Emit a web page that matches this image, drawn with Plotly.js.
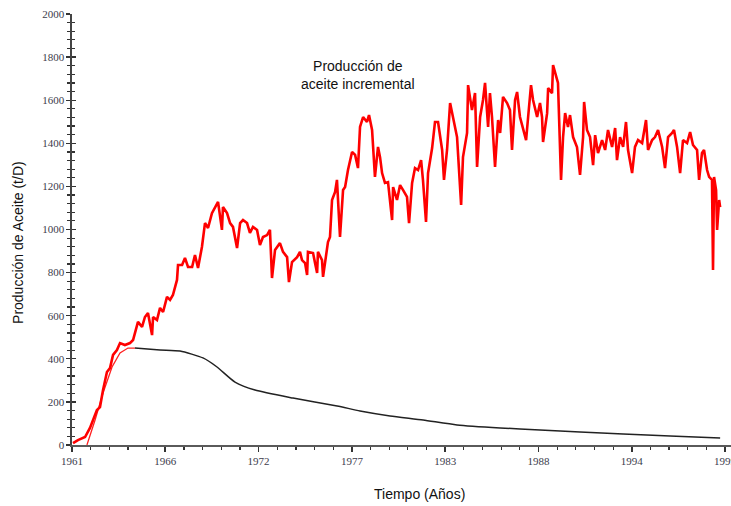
<!DOCTYPE html>
<html>
<head>
<meta charset="utf-8">
<script src="https://cdn.plot.ly/plotly-3.0.1.min.js"></script>
<style>html,body{margin:0;padding:0;background:#fff;}#chart{width:731px;height:506px;}</style>
</head>
<body>
<div id="chart"></div>
<script>
// Incremental oil production (red)
const incYears = [1961.06,1961.35,1961.77,1962.06,1962.47,1962.65,1962.83,1963.06,1963.24,1963.42,1963.65,1963.83,1964.12,1964.42,1964.60,1964.71,1964.89,1965.13,1965.30,1965.48,1965.72,1965.78,1966.01,1966.19,1966.37,1966.60,1966.78,1966.95,1967.19,1967.25,1967.49,1967.66,1967.84,1968.08,1968.25,1968.43,1968.66,1968.84,1969.02,1969.25,1969.43,1969.61,1969.84,1969.90,1970.14,1970.32,1970.49,1970.73,1970.91,1971.08,1971.32,1971.49,1971.67,1971.91,1972.08,1972.26,1972.50,1972.67,1972.79,1972.97,1973.26,1973.44,1973.68,1973.79,1973.97,1974.27,1974.44,1974.56,1974.74,1974.86,1974.91,1975.21,1975.33,1975.45,1975.50,1975.74,1975.80,1975.92,1976.09,1976.21,1976.33,1976.51,1976.62,1976.80,1976.98,1977.10,1977.27,1977.51,1977.69,1977.86,1977.98,1978.16,1978.39,1978.51,1978.69,1978.86,1979.04,1979.16,1979.28,1979.45,1979.63,1979.87,1979.93,1980.16,1980.34,1980.52,1980.75,1980.87,1981.05,1981.22,1981.40,1981.58,1981.69,1981.87,1981.99,1982.23,1982.40,1982.58,1982.82,1982.93,1983.11,1983.29,1983.46,1983.70,1983.94,1984.05,1984.29,1984.35,1984.58,1984.76,1984.88,1985.06,1985.23,1985.35,1985.53,1985.64,1985.76,1985.94,1986.12,1986.24,1986.41,1986.65,1986.82,1986.94,1987.12,1987.24,1987.41,1987.59,1987.77,1987.89,1988.06,1988.18,1988.42,1988.59,1988.71,1988.77,1989.01,1989.07,1989.30,1989.36,1989.60,1989.65,1989.83,1989.95,1990.07,1990.24,1990.36,1990.54,1990.77,1990.95,1991.13,1991.19,1991.36,1991.54,1991.72,1991.84,1992.01,1992.25,1992.43,1992.60,1992.84,1993.02,1993.13,1993.31,1993.49,1993.66,1993.78,1994.02,1994.19,1994.37,1994.61,1994.84,1994.96,1995.20,1995.37,1995.55,1995.79,1995.96,1996.14,1996.38,1996.49,1996.67,1996.85,1997.02,1997.26,1997.44,1997.61,1997.85,1997.97,1998.14,1998.26,1998.44,1998.56,1998.73,1998.79,1998.85,1998.97,1999.03,1999.15,1999.21];
const incValues = [9,23,37,79,162,176,255,339,357,418,441,473,464,473,487,524,571,548,594,612,510,594,580,636,617,687,673,696,766,835,835,868,826,826,882,821,919,1030,1007,1076,1104,1128,998,1104,1076,1030,1012,914,1030,1044,1030,984,1012,998,928,965,974,998,775,905,937,896,872,756,849,872,896,858,844,789,896,891,844,798,896,858,780,849,942,965,1137,1174,1230,965,1183,1197,1276,1360,1346,1285,1476,1522,1499,1531,1462,1244,1383,1336,1262,1216,1220,1044,1197,1137,1206,1183,1151,1030,1216,1285,1276,1322,1230,1035,1262,1378,1499,1499,1369,1230,1369,1587,1522,1429,1114,1336,1448,1670,1554,1633,1290,1522,1601,1680,1476,1633,1522,1290,1508,1448,1615,1587,1554,1369,1601,1638,1522,1462,1415,1522,1670,1601,1522,1587,1522,1406,1540,1656,1633,1763,1694,1680,1230,1429,1540,1476,1531,1429,1383,1253,1429,1592,1462,1429,1299,1438,1355,1415,1369,1462,1383,1471,1322,1429,1383,1499,1369,1262,1383,1415,1401,1508,1369,1415,1429,1462,1383,1285,1429,1448,1462,1383,1262,1415,1401,1452,1392,1369,1230,1355,1369,1276,1244,1230,812,1244,1183,998,1137,1104];

// Early fitted ramp (thin red)
const fitYears = [1961.88,1962.36,1962.83,1963.36,1963.83,1964.30,1964.71];
const fitValues = [0,116,241,362,427,450,450];

// Base decline production (black)
const baseYears = [1964.71,1966.19,1967.37,1968.72,1969.55,1970.61,1971.79,1974.03,1976.63,1977.98,1979.75,1981.70,1983.70,1986.24,1988.59,1990.95,1993.49,1996.26,1999.21];
const baseValues = [450,441,436,404,362,292,255,218,181,158,135,116,93,79,70,60,51,42,32];

const tickYears = [1961,1966.5,1972,1977.5,1983,1988.5,1994,1999.5];
const tickLabels = ['1961','1966','1972','1977','1983','1988','1994','1999'];

const traces = [
  {x: fitYears, y: fitValues, type:'scatter', mode:'lines', line:{color:'#ff2020', width:1.3}, hoverinfo:'skip'},
  {x: incYears, y: incValues, type:'scatter', mode:'lines', line:{color:'#ff0000', width:2.6}, hoverinfo:'skip'},
  {x: baseYears, y: baseValues, type:'scatter', mode:'lines', line:{color:'#222222', width:1.5, shape:'spline', smoothing:0.6}, yaxis:'y2', hoverinfo:'skip'}
];

const tickFont = {family:'Liberation Serif, serif', size:11, color:'#3c3c4c'};
const layout = {
  width:731, height:506,
  margin:{l:72, r:0, t:14, b:61},
  paper_bgcolor:'#ffffff', plot_bgcolor:'#ffffff',
  showlegend:false,
  xaxis:{
    range:[1961, 1999.85], showgrid:false, zeroline:false,
    showline:true, linecolor:'#5a5a5a', linewidth:1.6,
    tickmode:'array', tickvals:tickYears, ticktext:tickLabels,
    ticks:'outside', ticklen:5, tickwidth:1.6, tickcolor:'#333',
    tickfont:tickFont, ticklabeloverflow:'allow',
    minor:{tickmode:'linear', tick0:1961, dtick:1.1, ticks:'outside', ticklen:3, tickwidth:1.2, tickcolor:'#333'}
  },
  yaxis:{
    range:[0,2000], showgrid:false, zeroline:false,
    showline:true, linecolor:'#444', linewidth:1.6,
    tickmode:'linear', tick0:0, dtick:200,
    ticks:'outside', ticklen:4, tickwidth:1.4, tickcolor:'#333',
    tickfont:tickFont,
    minor:{tickmode:'linear', tick0:0, dtick:40, ticks:'outside', ticklen:3, tickwidth:1.2, tickcolor:'#333'}
  },
  yaxis2:{
    range:[0,2000], overlaying:'y', side:'left', anchor:'x',
    showgrid:false, zeroline:false, showline:false, showticklabels:false,
    tickmode:'linear', tick0:0, dtick:200,
    ticks:'inside', ticklen:4, tickwidth:1.4, tickcolor:'#333',
    minor:{tickmode:'linear', tick0:0, dtick:40, ticks:'inside', ticklen:3, tickwidth:1.2, tickcolor:'#333'}
  },
  annotations:[
    {text:'Producción de<br>aceite incremental', xref:'paper', yref:'paper', x:0.434, y:0.858, showarrow:false,
     font:{family:'Liberation Sans, Arial, sans-serif', size:14, color:'#111'}, align:'center', xanchor:'center', yanchor:'middle'},
    {text:'Producción de Aceite (t/D)', xref:'paper', yref:'paper', x:-0.082, y:0.471, textangle:-90, showarrow:false,
     font:{family:'Liberation Sans, Arial, sans-serif', size:14, color:'#111'}, xanchor:'center', yanchor:'middle'},
    {text:'Tiempo (Años)', xref:'paper', yref:'paper', x:0.528, y:-0.114, showarrow:false,
     font:{family:'Liberation Sans, Arial, sans-serif', size:14, color:'#111'}, xanchor:'center', yanchor:'middle'}
  ]
};
Plotly.newPlot('chart', traces, layout, {displayModeBar:false, staticPlot:true});
</script>
</body>
</html>
